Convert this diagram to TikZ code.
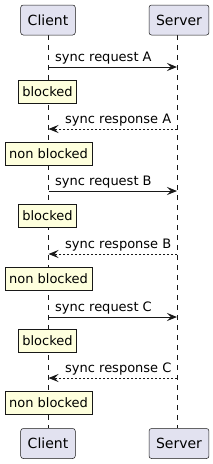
\documentclass[tikz,border=0pt]{standalone}
\usepackage{fontspec}
\setmainfont{DejaVu Sans}
\usetikzlibrary{arrows.meta}
\definecolor{partC}{HTML}{E2E2F0}
\definecolor{noteC}{HTML}{FEFFDD}
\definecolor{lineC}{HTML}{181818}
\begin{document}
\begin{tikzpicture}[x=1pt,y=-1pt,
  part/.style={draw=lineC, fill=partC, rounded corners=2.5pt, line width=0.5pt,
    minimum height=30pt, inner xsep=7pt, inner ysep=0pt, font=\fontsize{14}{16}\selectfont},
  notebox/.style={draw=lineC, fill=noteC, line width=0.5pt, minimum height=23pt,
    inner xsep=4pt, inner ysep=0pt, font=\fontsize{13}{15}\selectfont},
  life/.style={draw=lineC, line width=0.5pt, dash pattern=on 5pt off 5pt},
  msg/.style={draw=lineC, line width=1pt, -{Stealth[length=10pt,width=8pt,inset=4pt]}},
  reply/.style={msg, dash pattern=on 2pt off 2pt},
  lbl/.style={inner sep=0pt, font=\fontsize{13}{15}\selectfont, text=black}]
\useasboundingbox (0,0) rectangle (213,464);
% lifeline anchors
\coordinate (cTop) at (48.5,35);
\coordinate (cBot) at (48.5,428);
\coordinate (sTop) at (177,35);
\coordinate (sBot) at (177,428);
\draw[life] (cTop) -- (cBot);
\draw[life] (sTop) -- (sBot);
% participants
\node[part] (client) at (48,20) {Client};
\node[part] (server) at (179,20) {Server};
\node[part] (clientB) at (48,443.5) {Client};
\node[part] (serverB) at (179,443.5) {Server};
% messages
\foreach \n/\rq/\rs/\nb/\nn in {A/67/129/91.5/153.5, B/191/254/216/279, C/317/378/341/403}{
  \coordinate (rqC\n) at (48.5,\rq);
  \coordinate (rqS\n) at (177,\rq);
  \coordinate (rsC\n) at (48.5,\rs);
  \coordinate (rsS\n) at (177,\rs);
  \draw[msg] (rqC\n) -- (rqS\n);
  \node[lbl, anchor=base west] (rqL\n) at (55,\rq-5.5) {sync request \n};
  \node[notebox] (blk\n) at (47.5,\nb) {blocked};
  \draw[reply] (rsS\n) -- (rsC\n);
  \node[lbl, anchor=base west] (rsL\n) at (65,\rs-5.5) {sync response \n};
  \node[notebox] (nbl\n) at (48.5,\nn) {non blocked};
}
\end{tikzpicture}
\end{document}
